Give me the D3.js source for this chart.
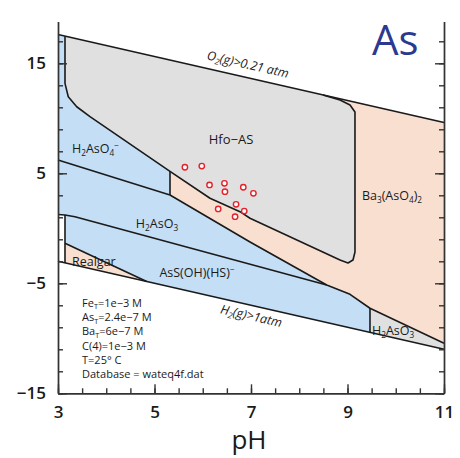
<!DOCTYPE html>
<html>
<head>
<meta charset="utf-8">
<script src="https://cdn.jsdelivr.net/npm/d3@7"></script>
<style>
  body { margin: 0; background: #fff; }
  svg { display: block; font-family: "Open Sans", "Noto Sans", sans-serif; }
</style>
</head>
<body>
<script>
// Axis ticks
var phMajor = [3, 5, 7, 9, 11];
var phMinor = d3.range(3, 11.01, 0.5);
var peMajor = [15, 5, -5, -15];
var peMinor = d3.range(-15, 18, 2);

// Stability boundaries, [pH, pe]
var o2Line = [[3, 17.61], [11, 9.61]];
var h2Line = [[3, -3], [11, -11]];
var hfoEdge = [
  [3.145, 17.465], [3.145, 13.18], [3.213, 11.96], [3.388, 11.05], [3.663, 10.15],
  [5.321, 5.18], [6.15, 2.73], [6.772, 1.51], [6.979, 0.91], [8.845, -2.88],
  [9.01, -3.15], [9.114, -2.88], [9.155, -2.15], [9.155, 10.57], [9.052, 11.21],
  [8.845, 11.66], [8.492, 12.118]
];
var h2aso4Edge = [[3, 6.21], [5.321, 3.03]];
var baEdge = [[5.321, 3.03], [6.98, -1.25], [8.569, -5.15], [9.052, -6.0], [9.466, -7.27], [11, -10.45]];
var assEdge = [[3, 1.25], [3.145, 1.21], [3.352, 1.05], [8.569, -5.15]];
var realgarEdge = [[3.145, -1.36], [4.838, -4.838]];

// Water samples
var samplePH = [5.63, 5.98, 6.14, 6.45, 6.46, 6.84, 7.05, 6.69, 6.32, 6.86, 6.67];
var samplePE = [5.55, 5.66, 3.94, 4.09, 3.33, 3.73, 3.18, 2.18, 1.76, 1.57, 1.06];

var legendLines = ["Fe_T=1e\u22123 M", "As_T=2.4e\u22127 M", "Ba_T=6e\u22127 M", "C(4)=1e\u22123 M", "T=25\u00b0 C", "Database = wateq4f.dat"];

var svgWidth = 460;
var svgHeight = 458;
var margin = { top: 21.5, right: 16, bottom: 64.7, left: 58 };
var chartWidth = svgWidth - margin.left - margin.right;
var chartHeight = svgHeight - margin.top - margin.bottom;

var blue = "#c4def5", peach = "#f9dfcf", grey = "#e0e0e0";

var svg = d3.select("body").append("svg")
  .attr("width", svgWidth)
  .attr("height", svgHeight);

var chartGroup = svg.append("g")
  .attr("transform", `translate(${margin.left}, ${margin.top})`);

var x = d3.scaleLinear().domain([3, 11]).range([0, chartWidth]);
var y = d3.scaleLinear().domain([-15, 18.8]).range([chartHeight, 0]);

var line = d3.line().x(d => x(d[0])).y(d => y(d[1]));

// Regions
var regions = [
  { fill: blue, pts: [[3, 17.61]].concat(hfoEdge.slice(0, 6), [[5.321, 3.03], [3, 6.21]]) },
  { fill: grey, pts: hfoEdge },
  { fill: peach, pts: [[11, 9.61]].concat(baEdge.slice().reverse(), hfoEdge.slice(5)) },
  { fill: blue, pts: [[3, 6.21]].concat(baEdge.slice(0, 3), assEdge.slice().reverse()) },
  { fill: blue, pts: assEdge.slice(1).concat(baEdge.slice(3, 5), [[9.466, -9.466], [4.838, -4.838], [3.145, -1.36]]) },
  { fill: peach, pts: [[3.145, -1.36], [4.838, -4.838], [3.145, -3.145]] },
  { fill: grey, pts: [[9.466, -7.27], [11, -10.45], [11, -11], [9.466, -9.466]] }
];

chartGroup.selectAll(".region")
  .data(regions)
  .enter().append("path")
  .attr("d", d => line(d.pts) + "Z")
  .attr("fill", d => d.fill)
  .attr("stroke", "none");

var edges = [o2Line, h2Line, hfoEdge, h2aso4Edge, baEdge, assEdge, realgarEdge,
  [[3.145, 1.21], [3.145, -3.145]], [[5.321, 5.18], [5.321, 3.03]], [[9.466, -7.27], [9.466, -9.466]]];

chartGroup.selectAll(".edge")
  .data(edges)
  .enter().append("path")
  .attr("d", line)
  .attr("fill", "none")
  .attr("stroke", "#1a1a1a")
  .attr("stroke-width", 1.6)
  .attr("stroke-linejoin", "round");

// Samples
chartGroup.selectAll(".sample")
  .data(samplePH)
  .enter().append("circle")
  .attr("cx", d => x(d))
  .attr("cy", (d, i) => y(samplePE[i]))
  .attr("r", 2.7)
  .attr("fill", "#fff")
  .attr("stroke", "#e5202a")
  .attr("stroke-width", 1.4);

// Text with _x subscripts and ^x superscripts
function richText(sel, str, fs) {
  var shift = 0;
  for (var i = 0; i < str.length; i++) {
    var c = str[i], kind = "n";
    if ((c === "_" || c === "^") && i + 1 < str.length) {
      kind = c; c = str[++i];
    }
    var target = kind === "_" ? fs * 0.22 : kind === "^" ? -fs * 0.4 : 0;
    var t = sel.append("tspan").text(c).attr("dy", target - shift);
    if (kind !== "n") t.attr("font-size", fs * 0.66);
    shift = target;
  }
}

function label(str, px, py, fs, anchor, extra) {
  var t = chartGroup.append("text")
    .attr("x", px).attr("y", py)
    .attr("font-size", fs)
    .attr("fill", "#1a1a1a")
    .attr("text-anchor", anchor || "start");
  if (extra) extra(t);
  richText(t, str, fs);
  return t;
}

var ox = -margin.left, oy = -margin.top;
label("H_2AsO_4^\u2212", 72 + ox, 153 + oy, 12.5);
label("Hfo\u2212AS", 231 + ox, 144 + oy, 13, "middle");
label("Ba_3(AsO_4)_2", 392 + ox, 200 + oy, 12.5, "middle");
label("H_2AsO_3", 157 + ox, 228 + oy, 12.5, "middle");
label("AsS(OH)(HS)^\u2212", 197 + ox, 277 + oy, 12.5, "middle");
label("Realgar", 72 + ox, 266 + oy, 12.5);
label("H_2AsO_3", 372 + ox, 335 + oy, 12.5);

var ang = Math.atan2(y(o2Line[1][1]) - y(o2Line[0][1]), x(o2Line[1][0]) - x(o2Line[0][0])) * 180 / Math.PI;
label("O_2(g)>0.21 atm", 0, 0, 12.5, "start", t => t.attr("font-style", "italic")
  .attr("x", null).attr("y", null)
  .attr("transform", `translate(${x(6.07)}, ${y(20.61 - 6.07) - 9}) rotate(${ang})`));
label("H_2(g)>1atm", 0, 0, 12.5, "start", t => t.attr("font-style", "italic")
  .attr("x", null).attr("y", null)
  .attr("transform", `translate(${x(6.35)}, ${y(-6.35) + 15}) rotate(${ang})`));

legendLines.forEach(function(s, i) {
  label(s, 82 + ox, 307 + i * 14.2 + oy, 11);
});

chartGroup.append("text")
  .attr("x", 372 + ox).attr("y", 55 + oy)
  .attr("font-size", 42)
  .attr("fill", "#2b3990")
  .text("As");

// Axes
function styleAxis(g) {
  g.selectAll("path, line").attr("stroke", "#333").attr("stroke-width", 1.4);
  g.selectAll("text").attr("fill", "#1a1a1a").attr("font-size", 17).attr("font-weight", 600)
    .attr("font-family", "'Open Sans', sans-serif");
}

chartGroup.append("g").call(d3.axisLeft(y).tickValues(peMinor).tickSizeInner(-5).tickSizeOuter(0).tickFormat("")).call(styleAxis);
chartGroup.append("g").call(d3.axisLeft(y).tickValues(peMajor).tickSizeInner(-9).tickSizeOuter(0).tickPadding(12)).call(styleAxis);
chartGroup.append("g").attr("transform", `translate(${chartWidth},0)`)
  .call(d3.axisRight(y).tickValues(peMinor).tickSizeInner(-5).tickSizeOuter(0).tickFormat("")).call(styleAxis);
chartGroup.append("g").attr("transform", `translate(${chartWidth},0)`)
  .call(d3.axisRight(y).tickValues(peMajor).tickSizeInner(-9).tickSizeOuter(0).tickFormat("")).call(styleAxis);
chartGroup.append("g").attr("transform", `translate(0,${chartHeight})`)
  .call(d3.axisBottom(x).tickValues(phMinor).tickSizeInner(-5).tickSizeOuter(0).tickFormat("")).call(styleAxis);
chartGroup.append("g").attr("transform", `translate(0,${chartHeight})`)
  .call(d3.axisBottom(x).tickValues(phMajor).tickSizeInner(-9).tickSizeOuter(0).tickPadding(13)).call(styleAxis);

chartGroup.append("text")
  .attr("x", chartWidth / 2 - 2)
  .attr("y", chartHeight + 56)
  .attr("text-anchor", "middle")
  .attr("font-size", 26)
  .attr("font-weight", 500)
  .attr("fill", "#1a1a1a")
  .text("pH");
</script>
</body>
</html>
